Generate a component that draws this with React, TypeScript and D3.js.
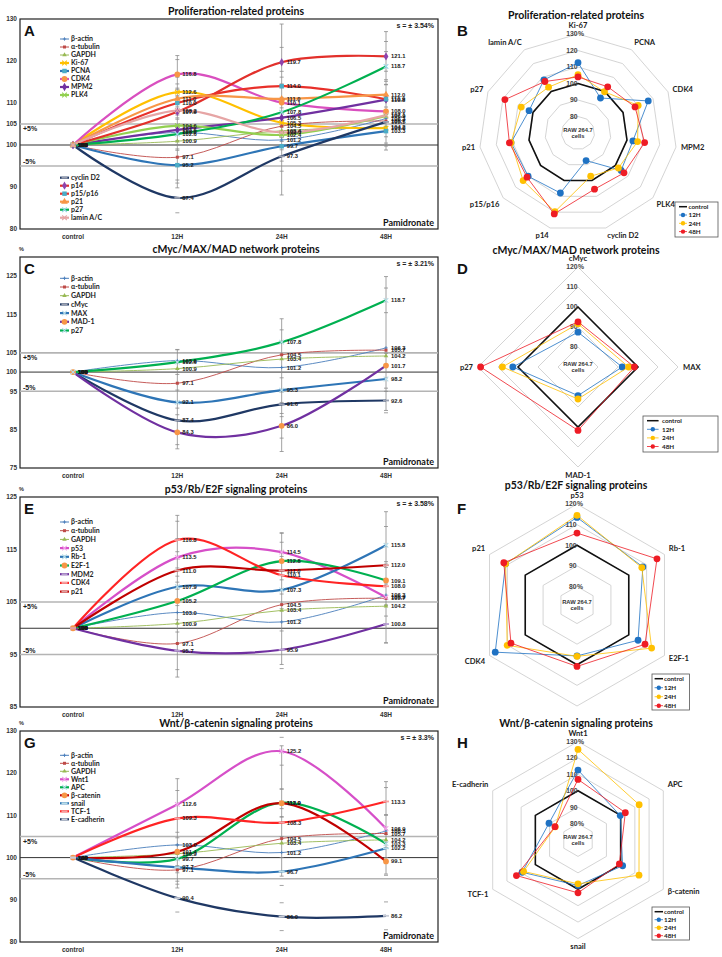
import React from 'react';
import * as d3 from 'd3';

const timePoints = ['control', '12H', '24H', '48H'];
const radarTimes = ['12H', '24H', '48H'];

// loading controls, same in every line panel
const betaActin = [100, 103.0, 101.2, 106.3];
const alphaTubulin = [100, 97.1, 104.5, 105.7];
const gapdh = [100, 100.9, 103.4, 104.2];

// proliferation-related
const ki67 = [100, 112.6, 105.3, 104.0];
const pcna = [100, 95.2, 99.7, 103.3];
const cdk4 = [100, 116.8, 110.1, 108.0];
const mpm2 = [100, 103.6, 106.5, 110.8];
const plk4 = [100, 104.6, 102.4, 106.9];
const cyclinD2 = [100, 87.4, 97.3, 105.5];
const p14 = [100, 107.9, 119.7, 121.1];
const p15p16 = [100, 110.0, 114.0, 110.9];
const p21 = [100, 111.0, 111.0, 112.0];
const p27 = [100, 102.6, 107.8, 118.7];
const laminAC = [100, 108.2, 103.0, 107.1];

// cMyc/MAX/MAD
const cMyc = [100, 87.4, 91.6, 92.6];
const max = [100, 92.1, 95.3, 98.2];
const mad1 = [100, 84.3, 86.0, 101.7];

// p53/Rb/E2F
const p53 = [100, 113.5, 114.5, 105.9];
const rb1 = [100, 107.9, 107.3, 115.8];
const e2f1 = [100, 105.2, 112.8, 109.1];
const mdm2 = [100, 95.7, 95.9, 100.8];

// Wnt/beta-catenin
const wnt1 = [100, 112.6, 125.2, 106.9];
const apc = [100, 99.7, 113.0, 103.3];
const betaCatenin = [100, 101.4, 112.9, 99.1];
const snail = [100, 97.7, 96.7, 102.2];
const tcf1 = [100, 109.3, 108.3, 113.3];
const eCadherin = [100, 90.4, 86.0, 86.2];

// whisker extents [low, high] at 12H, 24H, 48H
const spreadA = [[89.8, 121.3], [88.1, 128.8], [98.8, 127.0]];
const spreadC = [[80.0, 105.9], [79.3, 113.9], [90.0, 124.9]];
const spreadE = [[90.7, 121.5], [93.1, 118.2], [97.2, 122.2]];
const spreadG = [[92.8, 118.7], [95.6, 126.5], [96.1, 118.0]];

const ticksA = [130, 120, 110, 105, 100, 90, 80];
const ticksC = [125, 115, 105, 100, 95, 85, 75];
const ticksE = [125, 115, 105, 95, 85];
const ticksG = [130, 120, 110, 100, 90, 80];

const TITLE_FONT = 'Lato, "Open Sans", sans-serif';
const NUM_FONT = '"Liberation Sans", Arial, sans-serif';

const BOX_L = 20;
const BOX_R = 438;
const xScale = d3.scalePoint<string>().domain(timePoints).range([73, 386]);

type MarkerKind = 'plus' | 'square' | 'triangle' | 'times' | 'circle' | 'diamond' | 'dash';

interface Series {
  name: string;
  values: number[];
  color: string;
  marker: MarkerKind;
  markerColor?: string;
  thin?: boolean;
}

const housekeeping: Series[] = [
  { name: 'β-actin', values: betaActin, color: '#4a7ebb', marker: 'plus', thin: true },
  { name: 'α-tubulin', values: alphaTubulin, color: '#be4b48', marker: 'square', thin: true },
  { name: 'GAPDH', values: gapdh, color: '#98b954', marker: 'triangle', thin: true },
];

const symbolTypes: Record<string, d3.SymbolType> = {
  square: d3.symbolSquare,
  triangle: d3.symbolTriangle,
  circle: d3.symbolCircle,
  diamond: d3.symbolDiamond,
};

function Marker({ kind, x, y, color, small }: { kind: MarkerKind; x: number; y: number; color: string; small?: boolean }) {
  const k = small ? 0.7 : 1;
  if (kind === 'plus') {
    return <path d={`M${x - 2.4 * k},${y}h${4.8 * k}M${x},${y - 2.4 * k}v${4.8 * k}`} stroke={color} strokeWidth={0.9} />;
  }
  if (kind === 'times') {
    return <path d={`M${x - 2.3 * k},${y - 2.3 * k}l${4.6 * k},${4.6 * k}M${x - 2.3 * k},${y + 2.3 * k}l${4.6 * k},${-4.6 * k}`} stroke={color} strokeWidth={1.1} />;
  }
  if (kind === 'dash') {
    return <rect x={x - 3 * k} y={y - 0.9} width={6 * k} height={1.8} fill={color} />;
  }
  const size = small ? 9 : kind === 'circle' ? 26 : 20;
  return <path transform={`translate(${x},${y})`} d={d3.symbol(symbolTypes[kind], size)() || ''} fill={color} />;
}

interface LegendGroup {
  y: number;
  step: number;
  names: string[];
}

interface LineCfg {
  title: string;
  letter: string;
  rightLetter: string;
  top: number;
  bottom: number;
  domain: [number, number];
  ticks: number[];
  percent: boolean;
  sText: string;
  s: number;
  series: Series[];
  spread: number[][];
  legend: LegendGroup[];
}

const panelA: LineCfg = {
  title: 'Proliferation-related proteins',
  letter: 'A',
  rightLetter: 'B',
  top: 19,
  bottom: 229,
  domain: [80, 130],
  ticks: ticksA,
  percent: false,
  sText: 's = ± 3.54%',
  s: 3.54,
  spread: spreadA,
  series: [
    ...housekeeping,
    { name: 'Ki-67', values: ki67, color: '#ffc000', marker: 'times' },
    { name: 'PCNA', values: pcna, color: '#2e75b6', marker: 'square', markerColor: '#4bacc6' },
    { name: 'CDK4', values: cdk4, color: '#d94fbf', marker: 'circle', markerColor: '#f79646' },
    { name: 'MPM2', values: mpm2, color: '#7030a0', marker: 'diamond' },
    { name: 'PLK4', values: plk4, color: '#92d050', marker: 'times' },
    { name: 'cyclin D2', values: cyclinD2, color: '#1f3864', marker: 'dash', markerColor: '#9aa0b0' },
    { name: 'p14', values: p14, color: '#e2302b', marker: 'diamond', markerColor: '#8e44ad' },
    { name: 'p15/p16', values: p15p16, color: '#e8302a', marker: 'square', markerColor: '#4bacc6' },
    { name: 'p21', values: p21, color: '#f79646', marker: 'triangle' },
    { name: 'p27', values: p27, color: '#00b050', marker: 'times', markerColor: '#9bd8e8' },
    { name: 'lamin A/C', values: laminAC, color: '#e6a5a5', marker: 'times' },
  ],
  legend: [
    { y: 39, step: 8, names: ['β-actin', 'α-tubulin', 'GAPDH', 'Ki-67', 'PCNA', 'CDK4', 'MPM2', 'PLK4'] },
    { y: 177.7, step: 8, names: ['cyclin D2', 'p14', 'p15/p16', 'p21', 'p27', 'lamin A/C'] },
  ],
};

const panelC: LineCfg = {
  title: 'cMyc/MAX/MAD network proteins',
  letter: 'C',
  rightLetter: 'D',
  top: 257,
  bottom: 468,
  domain: [75, 130],
  ticks: ticksC,
  percent: true,
  sText: 's = ± 3.21%',
  s: 3.21,
  spread: spreadC,
  series: [
    ...housekeeping,
    { name: 'cMyc', values: cMyc, color: '#1f3864', marker: 'dash', markerColor: '#9aa0b0' },
    { name: 'MAX', values: max, color: '#2e75b6', marker: 'times', markerColor: '#b7dde8' },
    { name: 'MAD-1', values: mad1, color: '#7030a0', marker: 'circle', markerColor: '#f79646' },
    { name: 'p27', values: p27, color: '#00b050', marker: 'times', markerColor: '#b7dde8' },
  ],
  legend: [{ y: 278.3, step: 8.7, names: ['β-actin', 'α-tubulin', 'GAPDH', 'cMyc', 'MAX', 'MAD-1', 'p27'] }],
};

const panelE: LineCfg = {
  title: 'p53/Rb/E2F signaling proteins',
  letter: 'E',
  rightLetter: 'F',
  top: 497,
  bottom: 707,
  domain: [85, 125],
  ticks: ticksE,
  percent: true,
  sText: 's = ± 3.58%',
  s: 3.58,
  spread: spreadE,
  series: [
    ...housekeeping,
    { name: 'p53', values: p53, color: '#d64fc8', marker: 'times', markerColor: '#f2a6ea' },
    { name: 'Rb-1', values: rb1, color: '#2e75b6', marker: 'times', markerColor: '#b7dde8' },
    { name: 'E2F-1', values: e2f1, color: '#00b050', marker: 'circle', markerColor: '#f79646' },
    { name: 'MDM2', values: mdm2, color: '#7030a0', marker: 'dash', markerColor: '#b7a0d0' },
    { name: 'CDK4', values: cdk4, color: '#ff2424', marker: 'dash', markerColor: '#f5a0a0' },
    { name: 'p21', values: p21, color: '#c00000', marker: 'dash', markerColor: '#e0a0a0' },
  ],
  legend: [
    { y: 522, step: 8.7, names: ['β-actin', 'α-tubulin', 'GAPDH', 'p53', 'Rb-1', 'E2F-1', 'MDM2', 'CDK4', 'p21'] },
  ],
};

const panelG: LineCfg = {
  title: 'Wnt/β-catenin signaling proteins',
  letter: 'G',
  rightLetter: 'H',
  top: 731,
  bottom: 942,
  domain: [80, 130],
  ticks: ticksG,
  percent: true,
  sText: 's = ± 3.3%',
  s: 3.3,
  spread: spreadG,
  series: [
    ...housekeeping,
    { name: 'Wnt1', values: wnt1, color: '#d64fc8', marker: 'times', markerColor: '#f2a6ea' },
    { name: 'APC', values: apc, color: '#00b050', marker: 'times', markerColor: '#b7dde8' },
    { name: 'β-catenin', values: betaCatenin, color: '#c00000', marker: 'circle', markerColor: '#f79646' },
    { name: 'snail', values: snail, color: '#2e75b6', marker: 'dash', markerColor: '#b7dde8' },
    { name: 'TCF-1', values: tcf1, color: '#ff2424', marker: 'dash', markerColor: '#f5a0a0' },
    { name: 'E-cadherin', values: eCadherin, color: '#1f3864', marker: 'dash', markerColor: '#c8ccd6' },
  ],
  legend: [
    { y: 755.3, step: 8, names: ['β-actin', 'α-tubulin', 'GAPDH', 'Wnt1', 'APC', 'β-catenin', 'snail', 'TCF-1', 'E-cadherin'] },
  ],
};

function LinePanel({ p }: { p: LineCfg }) {
  const y = d3.scaleLinear().domain(p.domain).range([p.bottom, p.top]);
  const line = d3
    .line<number>()
    .x((_, i) => xScale(timePoints[i]) as number)
    .y((v) => y(v))
    .curve(d3.curveCardinal.tension(0));
  const bold = { fontFamily: NUM_FONT, fontWeight: 700 } as const;
  const byName = new Map(p.series.map((s) => [s.name, s]));

  return (
    <g>
      <text x={236} y={p.top - 4.5} textAnchor="middle" fontFamily={TITLE_FONT} fontWeight={700} fontSize={10.5} fill="#111">
        {p.title}
      </text>
      <rect x={BOX_L} y={p.top} width={BOX_R - BOX_L} height={p.bottom - p.top} fill="#fff" stroke="#222" strokeWidth={1.2} />
      {p.ticks.map((t) => (
        <text key={t} x={17} y={y(t)} dy="0.35em" textAnchor="end" fontSize={6.5} fill="#333" {...bold}>
          {t}
        </text>
      ))}
      {p.percent && (
        <text x={19} y={p.top - 6} fontSize={5.5} fill="#333" {...bold}>
          %
        </text>
      )}
      <line x1={BOX_L} x2={BOX_R} y1={y(105)} y2={y(105)} stroke="#b4b4b4" strokeWidth={1.6} />
      <line x1={BOX_L} x2={BOX_R} y1={y(95)} y2={y(95)} stroke="#b4b4b4" strokeWidth={1.6} />
      <line x1={BOX_L} x2={BOX_R} y1={y(100)} y2={y(100)} stroke="#333" strokeWidth={1} />
      <text x={23} y={y(105) + 5} dy="0.35em" fontSize={7} fill="#222" {...bold}>
        +5%
      </text>
      <text x={23} y={y(95) - 4} dy="0.35em" fontSize={7} fill="#222" {...bold}>
        -5%
      </text>

      {p.spread.map(([lo, hi], i) => {
        const x = xScale(radarTimes[i]) as number;
        const caps = [lo, hi, ...p.series.filter((s) => !s.thin).flatMap((s) => [s.values[i + 1] - p.s, s.values[i + 1] + p.s])];
        return (
          <g key={i} stroke="#8c8c8c" strokeWidth={0.8}>
            <line x1={x} x2={x} y1={y(lo)} y2={y(hi)} />
            {caps.map((v, j) => (
              <line key={j} x1={x - 2} x2={x + 2} y1={y(v)} y2={y(v)} />
            ))}
          </g>
        );
      })}

      {p.series.map((s) => (
        <path key={s.name} d={line(s.values) || ''} fill="none" stroke={s.color} strokeWidth={s.thin ? 0.9 : 2.2} />
      ))}
      {p.series.map((s) =>
        s.values.map((v, i) => (
          <Marker key={s.name + i} kind={s.marker} x={xScale(timePoints[i]) as number} y={y(v)} color={s.markerColor || s.color} small={s.thin} />
        ))
      )}
      {p.series.map((s) =>
        s.values.map((v, i) => (
          <text key={s.name + 't' + i} x={(xScale(timePoints[i]) as number) + 5} y={y(v)} dy="0.35em" fontSize={5.8} fill="#1a1a1a" {...bold}>
            {i === 0 ? '100' : v.toFixed(1)}
          </text>
        ))
      )}

      {p.legend.map((g) =>
        g.names.map((name, i) => {
          const s = byName.get(name)!;
          const ly = g.y + i * g.step;
          return (
            <g key={name}>
              <line x1={60} x2={69} y1={ly} y2={ly} stroke={s.color} strokeWidth={s.thin ? 1 : 2.2} />
              <Marker kind={s.marker} x={64.5} y={ly} color={s.markerColor || s.color} small={s.thin} />
              <text x={71} y={ly} dy="0.35em" fontFamily={TITLE_FONT} fontWeight={700} fontSize={7} fill="#222">
                {name}
              </text>
            </g>
          );
        })
      )}

      {timePoints.map((t) => (
        <text key={t} x={xScale(t)} y={p.bottom + 9.5} textAnchor="middle" fontSize={6.5} fill="#333" {...bold}>
          {t}
        </text>
      ))}
      <text x={434} y={p.top + 9} textAnchor="end" fontSize={7} fill="#222" {...bold}>
        {p.sText}
      </text>
      <text x={434} y={p.bottom - 3} textAnchor="end" fontFamily={TITLE_FONT} fontWeight={700} fontSize={9} fill="#111">
        Pamidronate
      </text>
      <text x={24} y={p.top + 17} fontSize={15} {...bold} fill="#111">
        {p.letter}
      </text>
      <text x={457} y={p.top + 17} fontSize={15} {...bold} fill="#111">
        {p.rightLetter}
      </text>
    </g>
  );
}

interface RadarCfg {
  title: string;
  titleY: number;
  cx: number;
  cy: number;
  domain: [number, number];
  outer: number;
  axes: string[];
  axisSeries: number[][];
  hidden?: string[];
  rings: number[];
  ringText: string[];
  legend: { x: number; y: number; w: number; h: number; step: number; line: [number, number]; text: number };
}

const radarColors = ['#1f72c3', '#ffc000', '#ee1c25'];

const radarB: RadarCfg = {
  title: 'Proliferation-related proteins',
  titleY: 19,
  cx: 578,
  cy: 133,
  domain: [70, 130],
  outer: 99,
  axes: ['Ki-67', 'PCNA', 'CDK4', 'MPM2', 'PLK4', 'cyclin D2', 'p14', 'p15/p16', 'p21', 'p27', 'lamin A/C'],
  axisSeries: [ki67, pcna, cdk4, mpm2, plk4, cyclinD2, p14, p15p16, p21, p27, laminAC],
  rings: [80, 90, 100, 110, 120, 130],
  ringText: ['80', '90', '100', '110', '120', '130%'],
  legend: { x: 675, y: 202, w: 43, h: 35, step: 8.3, line: [4, 12], text: 13.5 },
};

const radarD: RadarCfg = {
  title: 'cMyc/MAX/MAD network proteins',
  titleY: 254,
  cx: 578,
  cy: 367,
  domain: [70, 120],
  outer: 100,
  axes: ['cMyc', 'MAX', 'MAD-1', 'p27'],
  axisSeries: [cMyc, max, mad1, p27],
  rings: [80, 90, 100, 110, 120],
  ringText: ['80', '90', '100', '110', '120%'],
  legend: { x: 643, y: 416, w: 75, h: 36, step: 8.6, line: [4, 15.6], text: 19 },
};

const radarF: RadarCfg = {
  title: 'p53/Rb/E2F signaling proteins',
  titleY: 488.5,
  cx: 577,
  cy: 605,
  domain: [71, 120],
  outer: 101,
  axes: ['p53', 'Rb-1', 'E2F-1', 'MDM2', 'CDK4', 'p21'],
  axisSeries: [p53, rb1, e2f1, mdm2, cdk4, p21],
  hidden: ['MDM2'],
  rings: [80, 90, 100, 110, 120],
  ringText: ['80%', '90', '100', '110', '120%'],
  legend: { x: 652, y: 674, w: 37.5, h: 36, step: 9, line: [2.6, 11], text: 12 },
};

const radarH: RadarCfg = {
  title: 'Wnt/β-catenin signaling proteins',
  titleY: 726.5,
  cx: 578,
  cy: 840,
  domain: [70, 130],
  outer: 98.5,
  axes: ['Wnt1', 'APC', 'β-catenin', 'snail', 'TCF-1', 'E-cadherin'],
  axisSeries: [wnt1, apc, betaCatenin, snail, tcf1, eCadherin],
  rings: [80, 90, 100, 110, 120, 130],
  ringText: ['80 %', '90', '100', '110', '120', '130%'],
  legend: { x: 652, y: 907, w: 37.5, h: 33, step: 8, line: [2.6, 11], text: 12 },
};

function RadarPanel({ c }: { c: RadarCfg }) {
  const n = c.axes.length;
  const r = d3.scaleLinear().domain(c.domain).range([0, c.outer]);
  const angle = (i: number) => (i * 2 * Math.PI) / n;
  const radial = d3
    .lineRadial<number>()
    .angle((_, i) => angle(i))
    .radius((v) => r(v))
    .curve(d3.curveLinearClosed);
  const pt = (v: number, i: number) => [c.cx + r(v) * Math.sin(angle(i)), c.cy - r(v) * Math.cos(angle(i))];
  const tr = `translate(${c.cx},${c.cy})`;
  const bold = { fontFamily: NUM_FONT, fontWeight: 700 } as const;
  const lg = c.legend;

  return (
    <g>
      <text x={576} y={c.titleY} textAnchor="middle" fontFamily={TITLE_FONT} fontWeight={700} fontSize={10.5} fill="#111">
        {c.title}
      </text>
      {c.rings.map((v) => (
        <path key={v} transform={tr} d={radial(c.axes.map(() => v)) || ''} fill="none" stroke="#c9c9c9" strokeWidth={0.8} />
      ))}
      <path transform={tr} d={radial(c.axes.map(() => 100)) || ''} fill="none" stroke="#111" strokeWidth={1.6} />
      {c.rings.map((v, i) => {
        const txt = c.ringText[i];
        const num = txt.replace(/[^0-9]/g, '');
        const suffix = txt.slice(num.length);
        return (
          <g key={v} fontSize={6.8} fill="#444" {...bold}>
            <text x={c.cx - 0.5} y={c.cy - r(v)} dy="0.35em" textAnchor="end">
              {num}
            </text>
            {suffix && (
              <text x={c.cx} y={c.cy - r(v)} dy="0.35em">
                {suffix}
              </text>
            )}
          </g>
        );
      })}
      <text x={c.cx} y={c.cy - 1.5} textAnchor="middle" fontSize={5.8} fill="#333" {...bold}>
        RAW 264.7
      </text>
      <text x={c.cx} y={c.cy + 5} textAnchor="middle" fontSize={5.8} fill="#333" {...bold}>
        cells
      </text>

      {radarTimes.map((t, k) => {
        const vals = c.axisSeries.map((s) => s[k + 1]);
        return (
          <g key={t}>
            <path transform={tr} d={radial(vals) || ''} fill="none" stroke={radarColors[k]} strokeWidth={0.8} />
            {vals.map((v, i) => {
              const [x, y] = pt(v, i);
              return <circle key={i} cx={x} cy={y} r={3.4} fill={radarColors[k]} />;
            })}
          </g>
        );
      })}

      <rect x={lg.x} y={lg.y} width={lg.w} height={lg.h} fill="#fff" stroke="#555" strokeWidth={0.8} />
      {['control', ...radarTimes].map((t, i) => {
        const ly = lg.y + 4.7 + i * lg.step;
        const col = i === 0 ? '#111' : radarColors[i - 1];
        return (
          <g key={t}>
            <line x1={lg.x + lg.line[0]} x2={lg.x + lg.line[1]} y1={ly} y2={ly} stroke={col} strokeWidth={i === 0 ? 1.5 : 0.8} />
            {i > 0 && <circle cx={lg.x + (lg.line[0] + lg.line[1]) / 2} cy={ly} r={2.2} fill={col} />}
            <text x={lg.x + lg.text} y={ly} dy="0.35em" fontFamily={TITLE_FONT} fontWeight={700} fontSize={6.3} fill="#222">
              {t}
            </text>
          </g>
        );
      })}

      {c.axes.map((name, i) => {
        if (c.hidden && c.hidden.includes(name)) return null;
        const a = angle(i);
        const s = Math.sin(a);
        const co = Math.cos(a);
        const lr = c.outer + 5;
        const anchor = s > 0.2 ? 'start' : s < -0.2 ? 'end' : 'middle';
        const dy = co > 0.5 ? '-0.1em' : co < -0.5 ? '0.75em' : '0.35em';
        return (
          <text key={name} x={c.cx + lr * s} y={c.cy - lr * co} dy={dy} textAnchor={anchor} fontFamily={TITLE_FONT} fontWeight={700} fontSize={7.6} fill="#222">
            {name}
          </text>
        );
      })}
    </g>
  );
}

export default function App() {
  return (
    <svg width={722} height={957} style={{ position: 'absolute', left: 0, top: 0, background: '#fff' }}>
      <rect width={722} height={957} fill="#fff" />
      {[panelA, panelC, panelE, panelG].map((p) => (
        <LinePanel key={p.letter} p={p} />
      ))}
      {[radarB, radarD, radarF, radarH].map((c) => (
        <RadarPanel key={c.title} c={c} />
      ))}
    </svg>
  );
}
